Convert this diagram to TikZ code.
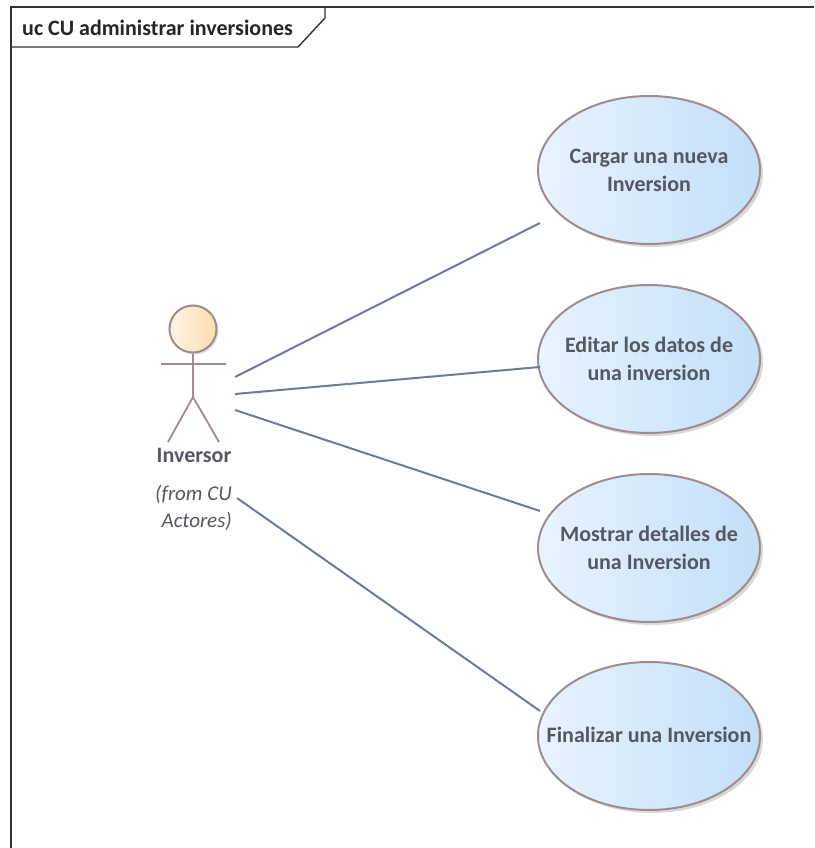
\documentclass[tikz,border=0pt]{standalone}
\usepackage{fontspec}
\setmainfont{Carlito}
\usepackage{xcolor}
\usetikzlibrary{shapes.geometric,shadows}
\definecolor{edgebrown}{HTML}{A08C8C}
\definecolor{linkblue}{HTML}{6E7B96}
\definecolor{labelgray}{HTML}{555763}
\definecolor{caseleft}{HTML}{E8F3FD}
\definecolor{caseright}{HTML}{C2DFF9}
\definecolor{headleft}{HTML}{FDF4E6}
\definecolor{headright}{HTML}{FDDDB0}
\begin{document}
\begin{tikzpicture}[x=1pt,y=-1pt,
	usecase/.style={ellipse,draw=edgebrown,line width=2pt,left color=caseleft,right color=caseright,minimum width=222pt,minimum height=148pt,inner xsep=-30pt,inner ysep=0pt,align=center,text=labelgray,font=\fontsize{22}{28}\selectfont\bfseries,drop shadow={shadow xshift=3pt,shadow yshift=-3pt,opacity=0.3}},
	actorline/.style={draw=edgebrown,line width=1.8pt},
	assoc/.style={draw=linkblue,line width=2pt}]
    \useasboundingbox (0,0) rectangle (814,848);
    % frame and its tab
    \coordinate (frameend) at (814,7);
    \coordinate (framefoot) at (11,848);
    \coordinate (framecorner) at (11,7);
    \coordinate (tabtop) at (325,7);
    \coordinate (tabbend) at (325,18);
    \coordinate (tabfoot) at (298,47);
    \coordinate (tableft) at (11,47);
    \draw[line width=1.4pt,black!80] (framefoot) -- (framecorner) -- (frameend);
    \draw[line width=1.4pt,black!80] (tabtop) -- (tabbend) -- (tabfoot) -- (tableft);
    \node[anchor=west,inner sep=0pt,font=\fontsize{22}{26}\selectfont\bfseries,text=black!85] (title) at (22,28) {uc CU administrar inversiones};
    % use cases
    \node[usecase] (cargar) at (649,170) {Cargar una nueva\\Inversion};
    \node[usecase] (editar) at (649,359) {Editar los datos de\\una inversion};
    \node[usecase] (mostrar) at (649,548) {Mostrar detalles de\\una Inversion};
    \node[usecase] (finalizar) at (649,736) {\raisebox{2pt}{Finalizar una Inversion}};
    % actor
    \node[circle,draw=edgebrown,line width=2pt,minimum size=47pt,inner sep=0pt,left color=headleft,right color=headright,drop shadow={shadow xshift=2pt,shadow yshift=-2pt,opacity=0.25}] (head) at (193,329) {};
    \coordinate (armleft) at (161,364);
    \coordinate (armright) at (226,364);
    \coordinate (hip) at (193,397);
    \coordinate (footleft) at (168,442);
    \coordinate (footright) at (219,442);
    \draw[actorline] (head.south) -- (hip);
    \draw[actorline] (armleft) -- (armright);
    \draw[actorline] (footleft) -- (hip) -- (footright);
    \node[font=\fontsize{22}{26}\selectfont\bfseries,text=labelgray,inner sep=0pt] (inversor) at (194,455) {Inversor};
    \node[font=\fontsize{21}{27}\selectfont\itshape,text=labelgray,inner sep=0pt,align=right,anchor=north east] (origen) at (232,485) {(from CU\\Actores)};
    % associations
    \coordinate (outa) at (235,377);
    \coordinate (outb) at (235,394);
    \coordinate (outc) at (235,410);
    \coordinate (outd) at (237,498);
    \coordinate (ina) at (540,223);
    \coordinate (inb) at (540,367);
    \coordinate (inc) at (540,511);
    \coordinate (ind) at (540,711);
    \draw[assoc] (outa) -- (ina);
    \draw[assoc] (outb) -- (inb);
    \draw[assoc] (outc) -- (inc);
    \draw[assoc] (outd) -- (ind);
  \end{tikzpicture}
\end{document}
